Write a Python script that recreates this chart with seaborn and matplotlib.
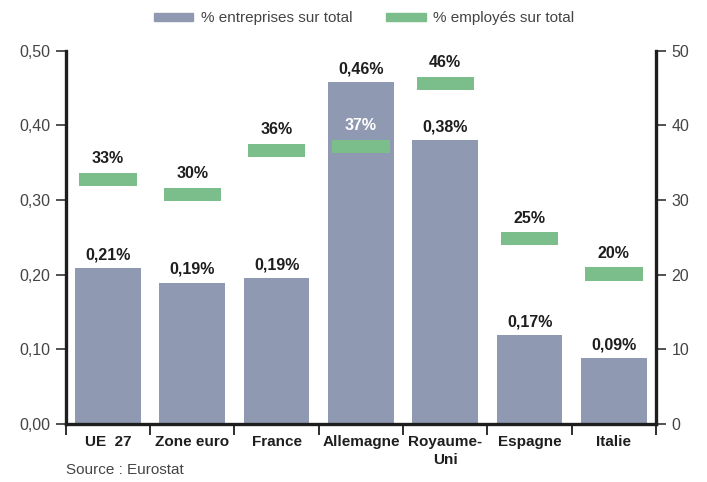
import matplotlib
matplotlib.use("Agg")
import matplotlib.pyplot as plt
import matplotlib.patches as mpatches
import numpy as np
import pandas as pd
import seaborn as sns

PAYS = ["UE  27", "Zone euro", "France", "Allemagne", "Royaume-\nUni", "Espagne", "Italie"]
ENTREPRISES = [0.209, 0.189, 0.195, 0.458, 0.380, 0.119, 0.088]
ENTREPRISES_TXT = ["0,21%", "0,19%", "0,19%", "0,46%", "0,38%", "0,17%", "0,09%"]
EMPLOYES = [32.8, 30.8, 36.6, 37.2, 45.6, 24.8, 20.1]
EMPLOYES_TXT = ["33%", "30%", "36%", "37%", "46%", "25%", "20%"]

LEFT_TICKS = [0.0, 0.1, 0.2, 0.3, 0.4, 0.5]
LEFT_LABELS = ["0,00", "0,10", "0,20", "0,30", "0,40", "0,50"]
RIGHT_TICKS = [0, 10, 20, 30, 40, 50]

BAR_COLOR = "#8f9ab2"
GREEN = "#7bbe8c"
DARK = "#1e1e1e"
GREY = "#444444"

sns.set_theme(style="white")
plt.rcParams["font.family"] = ["Liberation Sans", "DejaVu Sans"]

df = pd.DataFrame({"pays": PAYS, "entreprises": ENTREPRISES, "employes": EMPLOYES})

fig = plt.figure(figsize=(7.07, 4.82), dpi=100)
ax = fig.add_axes([0.093, 0.12, 0.835, 0.775])

sns.barplot(data=df, x="pays", y="entreprises", color=BAR_COLOR, saturation=1,
            width=0.78, linewidth=0, ax=ax)
ax.set_xlim(-0.5, len(PAYS) - 0.5)
ax.set_ylim(0, 0.5)
ax.set_xlabel("")
ax.set_ylabel("")

ax2 = ax.twinx()
ax2.set_ylim(0, 50)
mark_h = 1.75
x = np.arange(len(PAYS))
ax2.bar(x, [mark_h] * len(PAYS), bottom=[v - mark_h / 2 for v in EMPLOYES],
        width=0.68, color=GREEN, linewidth=0, zorder=3)

for i, (v, t) in enumerate(zip(ENTREPRISES, ENTREPRISES_TXT)):
    ax.text(i, v + 0.008, t, ha="center", va="bottom", fontsize=11.5,
            fontweight="bold", color=DARK)
for i, (v, t) in enumerate(zip(EMPLOYES, EMPLOYES_TXT)):
    col = "white" if PAYS[i] == "Allemagne" else DARK
    ax2.text(i, v + mark_h / 2 + 0.9, t, ha="center", va="bottom", fontsize=11.5,
             fontweight="bold", color=col, zorder=4)

# left axis
ax.set_yticks(LEFT_TICKS)
ax.set_yticklabels(LEFT_LABELS, fontsize=11.5, color=GREY)
ax.tick_params(axis="y", direction="out", length=7, width=1.3, color=GREY, pad=4, left=True)
ax.set_xticks(x)
ax.set_xticklabels(PAYS, fontsize=11, fontweight="bold", color=DARK, linespacing=1.3)
ax.tick_params(axis="x", length=0, pad=8)
ax.set_xticks(np.arange(-0.5, len(PAYS)), minor=True)
ax.tick_params(axis="x", which="minor", direction="out", length=8, width=1.3, color=DARK,
               bottom=True)

# right axis
ax2.set_yticks(RIGHT_TICKS)
ax2.set_yticklabels([str(t) for t in RIGHT_TICKS], fontsize=11.5, color=GREY)
ax2.tick_params(axis="y", direction="out", length=7, width=1.3, color=GREY, pad=4, right=True)

for a in (ax, ax2):
    a.spines["top"].set_visible(False)
    for s in ("left", "right", "bottom"):
        a.spines[s].set_linewidth(2.4)
        a.spines[s].set_color(DARK)
ax.spines["right"].set_visible(False)
ax2.spines["left"].set_visible(False)
ax2.spines["bottom"].set_visible(False)

handles = [mpatches.Patch(color=BAR_COLOR, label="% entreprises sur total"),
           mpatches.Patch(color=GREEN, label="% employés sur total")]
fig.legend(handles=handles, loc="center", bbox_to_anchor=(0.515, 0.962), ncol=2,
           frameon=False, fontsize=11, handlelength=2.6, handleheight=0.45,
           columnspacing=2.2, handletextpad=0.5, labelcolor=GREY)

fig.text(0.093, 0.025, "Source : Eurostat", fontsize=11, color=GREY, ha="left", va="center")

fig.savefig("out.png", dpi=100)
